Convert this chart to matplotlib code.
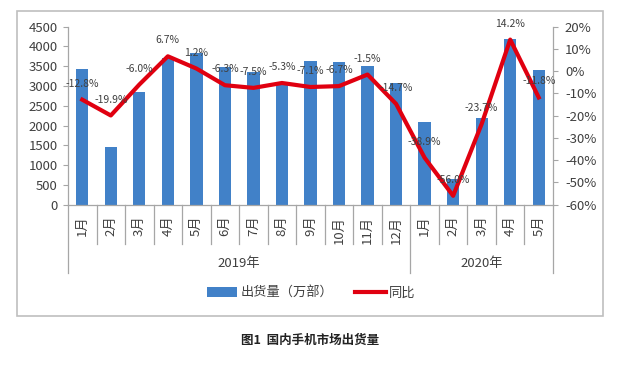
import matplotlib
matplotlib.use('Agg')
import matplotlib.pyplot as plt
from matplotlib.patches import Rectangle, Patch
from matplotlib.lines import Line2D

plt.rcParams['font.family'] = ['Noto Sans CJK SC', 'DejaVu Sans']

# Data
months = ['1月', '2月', '3月', '4月', '5月', '6月', '7月', '8月', '9月', '10月', '11月', '12月',
          '1月', '2月', '3月', '4月', '5月']
years = ['2019年', '2020年']
year_counts = [12, 5]
shipments = [3420, 1460, 2850, 3720, 3840, 3490, 3360, 3110, 3640, 3620, 3510, 3070,
             2090, 640, 2190, 4180, 3400]
yoy = [-12.8, -19.9, -6.0, 6.7, 1.2, -6.3, -7.5, -5.3, -7.1, -6.7, -1.5, -14.7,
       -38.9, -56.0, -23.7, 14.2, -11.8]
left_ticks = list(range(0, 4501, 500))
right_ticks = list(range(-60, 21, 10))

BAR = '#4181C8'
RED = '#E00010'
GRID = '#A6A6A6'
TXT = '#404040'

W, H = 627, 376
fig = plt.figure(figsize=(W / 100, H / 100), dpi=100)
fig.patch.set_facecolor('white')

# axes box in pixels
x0, x1, ytop, ybot = 68, 553, 26.7, 204.7
ax = fig.add_axes([x0 / W, 1 - ybot / H, (x1 - x0) / W, (ybot - ytop) / H])
ax_h = ybot - ytop

x = list(range(len(months)))
ax.bar(x, shipments, width=0.43, color=BAR, zorder=2)
ax.set_xlim(-0.5, len(months) - 0.5)
ax.set_ylim(0, 4500)
ax.set_yticks(left_ticks)
ax.tick_params(axis='y', direction='out', length=3.6, width=0.8, color=GRID,
               labelsize=9.5, labelcolor=TXT, pad=4)
ax.set_xticks(x)
ax.set_xticklabels(months, rotation=90, fontsize=9.5, color=TXT)
ax.tick_params(axis='x', length=0, pad=8)
for s in ['top', 'right']:
    ax.spines[s].set_visible(False)
for s in ['left', 'bottom']:
    ax.spines[s].set_color(GRID)
    ax.spines[s].set_linewidth(0.9)

# category separators (months short, years long)
tr = ax.get_xaxis_transform()
short = -39.3 / ax_h
long_ = -68.3 / ax_h
bounds = [0]
for c in year_counts:
    bounds.append(bounds[-1] + c)
for i in range(len(months) + 1):
    yb = long_ if i in bounds else short
    ax.plot([i - 0.5, i - 0.5], [0, yb], transform=tr, color=GRID, lw=0.9,
            clip_on=False)
for k, name in enumerate(years):
    xc = (bounds[k] + bounds[k + 1]) / 2 - 0.5
    ax.text(xc, -59.3 / ax_h, name, transform=tr, ha='center', va='center',
            fontsize=9.5, color=TXT)

# YoY line on the right axis
ax2 = ax.twinx()
ax2.plot(x, yoy, color=RED, lw=3, zorder=3)
ax2.set_ylim(-60, 20)
ax2.set_yticks(right_ticks)
ax2.set_yticklabels([f'{t}%' for t in right_ticks])
ax2.tick_params(axis='y', direction='out', length=3.6, width=0.8, color=GRID,
                labelsize=9.5, labelcolor=TXT, pad=5)
for s in ['top', 'left', 'bottom']:
    ax2.spines[s].set_visible(False)
ax2.spines['right'].set_color(GRID)
ax2.spines['right'].set_linewidth(0.9)

for xi, v in zip(x, yoy):
    ax2.annotate(f'{v:.1f}%', (xi, v), xytext=(0, 11.5), textcoords='offset points',
                 ha='center', va='center', fontsize=7.5, color=TXT, zorder=4)

# legend
handles = [Patch(facecolor=BAR, edgecolor='none'), Line2D([0], [0], color=RED, lw=3)]
fig.legend(handles, ['出货量（万部）', '同比'], loc='center', ncol=2,
           bbox_to_anchor=(311 / W, 1 - 293 / H), frameon=False, fontsize=9.5,
           handlelength=2.3, handletextpad=0.25, columnspacing=1.7,
           labelcolor=TXT)

# outer frame
fig.patches.append(Rectangle((17 / W, 1 - 316 / H), 586 / W, 305 / H,
                             transform=fig.transFigure, fill=False,
                             edgecolor='#BFBFBF', lw=1.2))

fig.text(310 / W, 1 - 340 / H, '图1  国内手机市场出货量', ha='center', va='center',
         fontsize=9, fontweight='bold', color='#222222')

fig.savefig('out.png', dpi=100, facecolor='white')
